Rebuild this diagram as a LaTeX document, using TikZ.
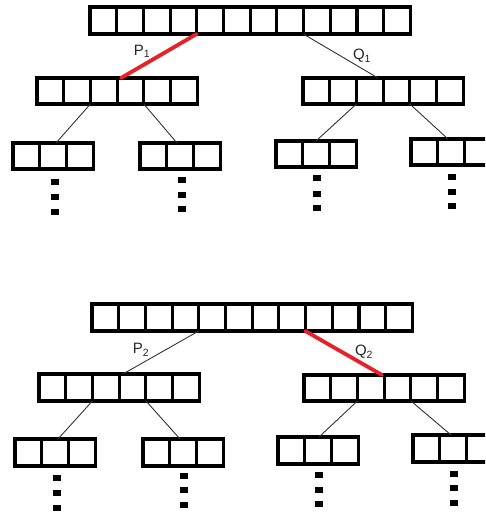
\documentclass[tikz,border=0pt]{standalone}
\usepackage{fontspec}
\setmainfont{Liberation Sans}
\usetikzlibrary{calc}
\definecolor{edgered}{HTML}{E8202A}
\definecolor{thin}{HTML}{333333}
\definecolor{lbl}{HTML}{262626}
\tikzset{
  arrbox/.style={draw=black, line width=3.1pt, inner sep=0pt, outer sep=0pt, anchor=north west},
  divider/.style={draw=black, line width=3.1pt},
  thinedge/.style={draw=thin, line width=0.9pt},
  rededge/.style={draw=edgered, line width=3.8pt, line cap=round},
  dotbox/.style={fill=black, draw=none, minimum width=8pt, minimum height=6pt, inner sep=0pt},
  lab/.style={text=lbl, font=\fontsize{15}{15}\selectfont, inner sep=0pt}
}
% name, x, y, cells, height
\newcommand\mkarr[5]{%
  \node[arrbox, minimum width={#4*26.7pt}, minimum height=#5pt] (#1) at (#2,#3) {};
  \pgfmathtruncatemacro\lastdiv{#4-1}%
  \foreach \k in {1,...,\lastdiv}{%
    \draw[divider] ($(#1.north west)!\k/#4!(#1.north east)$) -- ($(#1.south west)!\k/#4!(#1.south east)$);
  }%
}
\begin{document}
\begin{tikzpicture}[x=1pt,y=-1pt]
\useasboundingbox (0,0) rectangle (485,514);
\clip (0,0) rectangle (485,514);
\fill[white] (0,0) rectangle (485,514);

% ---------- first tree ----------
\mkarr{at}{90}{7}{12}{27}
\mkarr{al}{37}{78}{6}{26}
\mkarr{ar}{303}{78}{6}{26}
\mkarr{all}{13}{143}{3}{26}
\mkarr{alr}{140}{143}{3}{26}
\mkarr{arl}{276}{141}{3}{26}
\mkarr{arr}{411}{139}{3}{26}

\draw[rededge] ($(at.south west)+(106.7,0)$) -- ($(al.north west)+(84,0)$);
\draw[thinedge] ($(at.south west)+(213.3,0)$) -- ($(ar.north west)+(75,0)$);
\draw[thinedge] ($(al.south west)+(53.4,0)$) -- ($(all.north west)+(43,0)$);
\draw[thinedge] ($(al.south west)+(106.8,0)$) -- ($(alr.north west)+(37,0)$);
\draw[thinedge] ($(ar.south west)+(53.4,0)$) -- ($(arl.north west)+(40,0)$);
\draw[thinedge] ($(ar.south west)+(106.8,0)$) -- ($(arr.north west)+(37,0)$);

\node[lab] (p1) at (142,51) {P\textsubscript{1}};
\node[lab] (q1) at (362,56) {Q\textsubscript{1}};

\foreach \cx/\ya/\yb/\yc [count=\j] in {55/182/197/212, 182/180/195/209, 317/178/194/208, 452/177/192/206}{
  \node[dotbox] (da\j a) at (\cx,\ya) {};
  \node[dotbox] (da\j b) at (\cx,\yb) {};
  \node[dotbox] (da\j c) at (\cx,\yc) {};
}

% ---------- second tree ----------
\mkarr{bt}{92}{304}{12}{27}
\mkarr{bl}{39}{374}{6}{27}
\mkarr{br}{304}{375}{6}{26}
\mkarr{bll}{15}{439}{3}{27}
\mkarr{blr}{143}{439}{3}{27}
\mkarr{brl}{278}{437}{3}{27}
\mkarr{brr}{413}{435}{3}{27}

\draw[thinedge] ($(bt.south west)+(106.7,0)$) -- ($(bl.north west)+(84,0)$);
\draw[rededge] ($(bt.south west)+(213.3,0)$) -- ($(br.north west)+(78,0)$);
\draw[thinedge] ($(bl.south west)+(53.4,0)$) -- ($(bll.north west)+(43,0)$);
\draw[thinedge] ($(bl.south west)+(107,0)$) -- ($(blr.north west)+(37,0)$);
\draw[thinedge] ($(br.south west)+(53.4,0)$) -- ($(brl.north west)+(41,0)$);
\draw[thinedge] ($(br.south west)+(107,0)$) -- ($(brr.north west)+(38,0)$);

\node[lab] (p2) at (141,350) {P\textsubscript{2}};
\node[lab] (q2) at (364,352) {Q\textsubscript{2}};

\foreach \cx/\ya/\yb/\yc [count=\j] in {57/478/493/508, 184/476/490/505, 319/475/490/504, 454/474/488/503}{
  \node[dotbox] (db\j a) at (\cx,\ya) {};
  \node[dotbox] (db\j b) at (\cx,\yb) {};
  \node[dotbox] (db\j c) at (\cx,\yc) {};
}
\end{tikzpicture}
\end{document}
